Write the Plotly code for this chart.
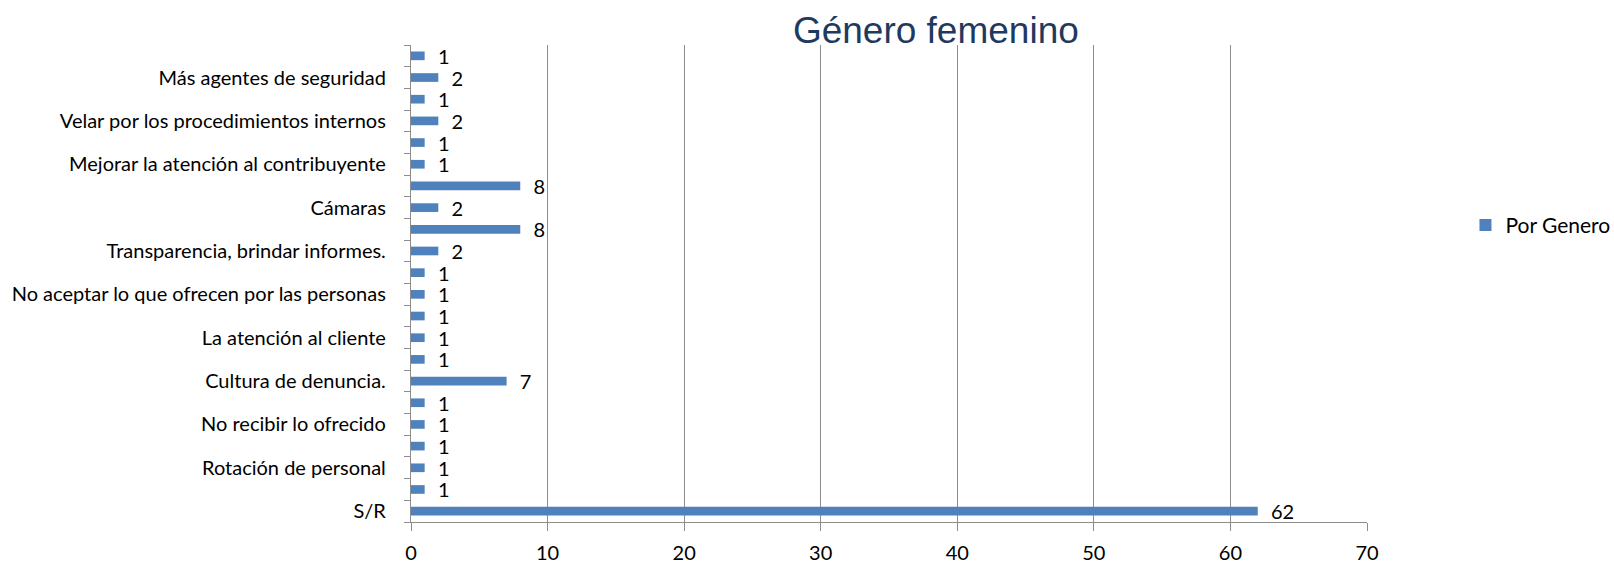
import plotly.graph_objects as go

# Counts per response, listed from the bottom bar (S/R) upwards
values = [62, 1, 1, 1, 1, 1, 7, 1, 1, 1, 1, 1, 2, 8, 2, 8, 1, 1, 2, 1, 2, 1]

# Category labels shown on the axis (every second category carries a label)
label_positions = [0, 2, 4, 6, 8, 10, 12, 14, 16, 18, 20]
label_texts = [
    "S/R",
    "Rotación de personal",
    "No recibir lo ofrecido",
    "Cultura de denuncia.",
    "La atención al cliente",
    "No aceptar lo que ofrecen por las personas",
    "Transparencia, brindar informes.",
    "Cámaras",
    "Mejorar la atención al contribuyente",
    "Velar por los procedimientos internos",
    "Más agentes de seguridad",
]

x_ticks = [0, 10, 20, 30, 40, 50, 60, 70]
series_name = "Por Genero"

positions = list(range(len(values)))
BLUE = "#4F81BD"
GRID = "#8C8C8C"
FONT = "Lato, Open Sans, sans-serif"
NBSP = "\u00a0"

fig = go.Figure()
fig.add_trace(go.Bar(
    x=values,
    y=positions,
    orientation="h",
    name=series_name,
    marker=dict(color=BLUE, line=dict(width=0)),
    width=0.4,
    text=[f"{NBSP * 2}{v}" for v in values],
    textposition="outside",
    constraintext="none",
    textfont=dict(family=FONT, size=20, color="#000000"),
    cliponaxis=False,
    showlegend=True,
))

fig.update_layout(
    width=1614,
    height=564,
    margin=dict(l=411, r=247, t=45, b=42, autoexpand=False),
    paper_bgcolor="white",
    plot_bgcolor="white",
    font=dict(family=FONT, size=20, color="#000000"),
    title=dict(
        text="Género femenino",
        font=dict(family="Liberation Sans Narrow, Liberation Sans, Arial, sans-serif",
                  size=37, color="#1F3A5F"),
        x=0.549, xref="paper", xanchor="center",
        y=1 - 30 / 564, yref="container", yanchor="middle",
    ),
    legend=dict(
        x=1.103, xref="paper", xanchor="left",
        y=0.622, yanchor="middle",
        font=dict(family=FONT, size=21),
        itemwidth=30,
        bgcolor="rgba(0,0,0,0)",
    ),
)

fig.update_xaxes(
    range=[0, 70],
    tickvals=x_ticks,
    ticktext=[str(t) for t in x_ticks],
    automargin=False,
    showgrid=True,
    gridcolor=GRID,
    gridwidth=1.3,
    zeroline=False,
    showline=True,
    linecolor=GRID,
    linewidth=1.3,
    ticks="outside",
    ticklen=8,
    tickcolor=GRID,
    tickwidth=1.3,
    ticklabelstandoff=5,
    tickfont=dict(family=FONT, size=20),
    fixedrange=True,
)

fig.update_yaxes(
    range=[-0.5, len(values) - 0.5],
    tickvals=label_positions,
    ticktext=label_texts,
    automargin=False,
    ticks="",
    ticklabelstandoff=20,
    showgrid=False,
    zeroline=False,
    showline=True,
    linecolor=GRID,
    linewidth=1.3,
    tickfont=dict(family=FONT, size=20),
    minor=dict(ticks="outside", tick0=-0.5, dtick=1, ticklen=6,
               tickcolor=GRID, tickwidth=1.3, showgrid=False),
    fixedrange=True,
)

fig.write_html("out.html")
